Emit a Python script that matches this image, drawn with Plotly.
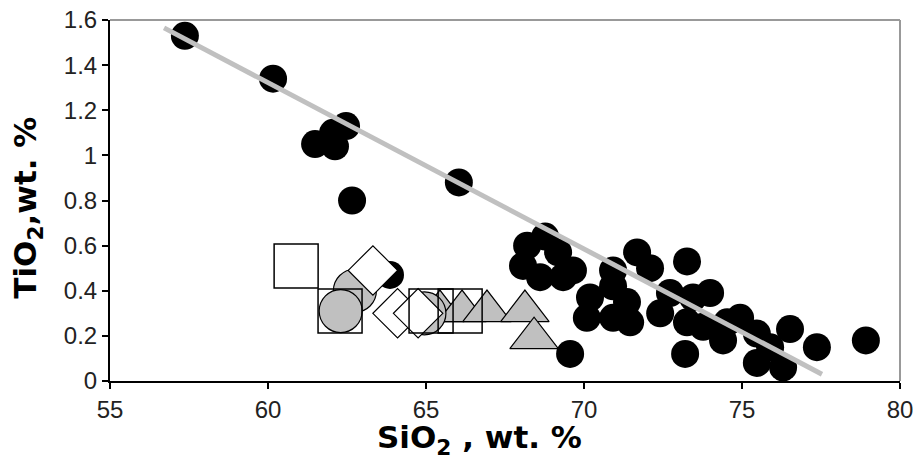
import plotly.graph_objects as go

# Black dots (main sample set)
black_x = [57.37, 60.16, 62.47, 62.06, 61.49, 62.12, 62.66, 66.04, 63.86,
           68.20, 68.77, 69.18, 68.07, 68.61, 69.34,
           71.68, 72.09, 73.26, 70.92, 70.19, 70.09, 70.92, 71.36, 71.46, 70.92,
           69.65, 69.56, 72.41, 72.72, 73.45, 73.99, 73.26, 74.40, 74.94, 75.47,
           76.52, 77.37, 75.47, 76.30, 73.20, 75.89, 73.77, 74.53, 78.92]
black_y = [1.53, 1.34, 1.13, 1.10, 1.05, 1.04, 0.80, 0.88, 0.47,
           0.60, 0.64, 0.57, 0.51, 0.46, 0.46,
           0.57, 0.50, 0.53, 0.49, 0.37, 0.28, 0.42, 0.35, 0.26, 0.28,
           0.49, 0.12, 0.30, 0.39, 0.37, 0.39, 0.26, 0.18, 0.28, 0.21,
           0.23, 0.15, 0.08, 0.06, 0.12, 0.15, 0.24, 0.26, 0.18]

# Gray triangles
tri_x = [65.44, 66.14, 66.93, 68.13, 68.42]
tri_y = [0.31, 0.31, 0.31, 0.31, 0.19]

# Gray circles
gcirc_x = [62.75, 62.30, 64.95]
gcirc_y = [0.40, 0.31, 0.30]

# Open diamonds
dia_x = [63.32, 64.10, 64.75]
dia_y = [0.49, 0.30, 0.30]

# Open squares
sq_x = [60.89, 62.28, 65.16, 66.08]
sq_y = [0.51, 0.31, 0.31, 0.31]

# Trend line
trend_x = [56.71, 77.53]
trend_y = [1.565, 0.03]

fig = go.Figure()
fig.add_trace(go.Scatter(x=black_x, y=black_y, mode="markers",
                         marker=dict(symbol="circle", size=28, color="black",
                                     line=dict(width=0))))
fig.add_trace(go.Scatter(x=tri_x, y=tri_y, mode="markers",
                         marker=dict(symbol="triangle-up", size=42, color="#c0c0c0",
                                     line=dict(width=1.2, color="black"))))
fig.add_trace(go.Scatter(x=gcirc_x, y=gcirc_y, mode="markers",
                         marker=dict(symbol="circle", size=43, color="#c0c0c0",
                                     line=dict(width=1.2, color="black"))))
fig.add_trace(go.Scatter(x=dia_x, y=dia_y, mode="markers",
                         marker=dict(symbol="diamond", size=38, color="white",
                                     line=dict(width=1.2, color="black"))))
fig.add_trace(go.Scatter(x=sq_x, y=sq_y, mode="markers",
                         marker=dict(symbol="square-open", size=44, color="black",
                                     line=dict(width=1.5, color="black"))))
fig.add_trace(go.Scatter(x=trend_x, y=trend_y, mode="lines",
                         line=dict(color="#c0c0c0", width=5)))

title_font = dict(family="DejaVu Sans, Liberation Sans, sans-serif", size=31, color="black")

fig.update_layout(
    width=913, height=456,
    margin=dict(l=110, r=13, t=20, b=75, autoexpand=False),
    plot_bgcolor="white", paper_bgcolor="white",
    showlegend=False,
    font=dict(family="Liberation Sans, Arial, sans-serif", size=24, color="#222"),
    xaxis=dict(range=[55, 80], dtick=5, tick0=55, showgrid=False, zeroline=False,
               showline=True, linecolor="black", linewidth=2,
               ticks="outside", ticklen=6, tickwidth=1.5, tickcolor="black",
               ticklabeloverflow="allow"),
    yaxis=dict(range=[0, 1.6], dtick=0.2, tick0=0, showgrid=False, zeroline=False,
               showline=True, linecolor="black", linewidth=2,
               ticks="outside", ticklen=6, tickwidth=1.5, tickcolor="black",
               ticklabeloverflow="allow"),
    shapes=[
        dict(type="line", xref="paper", yref="paper", x0=0, x1=1, y0=1, y1=1,
             line=dict(color="#999", width=2)),
        dict(type="line", xref="paper", yref="paper", x0=1, x1=1, y0=0, y1=1,
             line=dict(color="#999", width=2)),
    ],
    annotations=[
        dict(text="<b>SiO<sub>2</sub> , wt. %</b>", xref="paper", yref="paper",
             x=0.468, y=0, yshift=-58, showarrow=False, xanchor="center", yanchor="middle",
             font=title_font),
        dict(text="<b>TiO<sub>2</sub>,wt. %</b>", xref="paper", yref="paper",
             x=0, xshift=-82, y=0.48, textangle=-90, showarrow=False,
             xanchor="center", yanchor="middle",
             font=title_font),
    ],
)

fig.write_html("out.html", config={"displayModeBar": False},
               post_script="document.body.style.margin='0';document.body.style.overflow='hidden';")
